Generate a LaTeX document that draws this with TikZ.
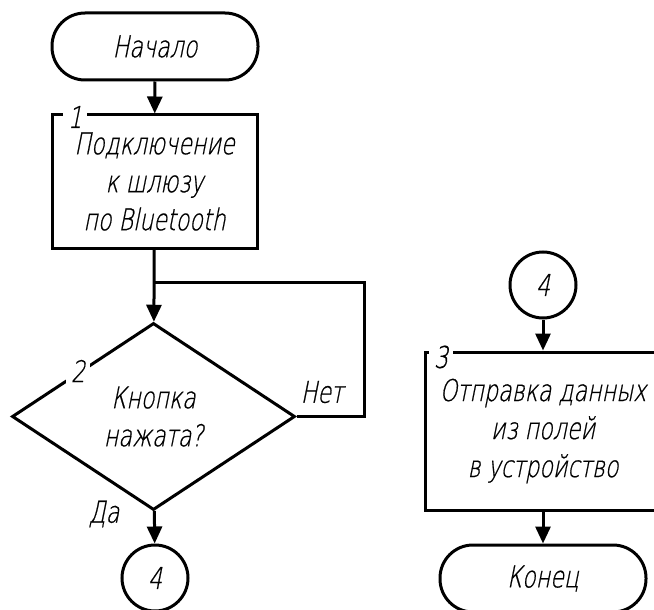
\documentclass[tikz,border=0pt]{standalone}
\usepackage{fontspec}
\newfontfamily\gost{DejaVu Sans ExtraLight}[FakeSlant=0.2,FakeStretch=0.74,FakeBold=0.6]
\usetikzlibrary{shapes.geometric,arrows.meta}
\tikzset{
  base/.style={draw,line width=3pt,align=center,inner sep=0pt,
    font=\gost\fontsize{30}{38}\selectfont},
  term/.style={base,rounded corners=33pt,minimum width=206pt,minimum height=67pt},
  proc/.style={base,rectangle},
  cond/.style={base,diamond,minimum width=283pt,minimum height=187pt},
  conn/.style={base,circle,minimum size=66pt},
  num/.style={fill=white,inner xsep=5pt,inner ysep=2pt,font=\gost\fontsize{30}{30}\selectfont},
  lbl/.style={inner sep=0pt,font=\gost\fontsize{30}{30}\selectfont},
  flow/.style={line width=3pt,-{Triangle[length=17pt,width=15pt]}},
  line/.style={line width=3pt}
}
\begin{document}
\begin{tikzpicture}[x=1pt,y=-1pt]
\useasboundingbox[fill=white] (0,0) rectangle (654,610);
% left column
\node[term] (start) at (155,46.5) {Начало};
\node[proc,minimum width=205pt,minimum height=133pt] (b1) at (154.5,181.5)
  {Подключение\\к шлюзу\\по Bluetooth};
\node[cond] (d2) at (153.5,416.5) {Кнопка\\нажата?};
\node[conn] (c4a) at (155,578) {4};
\coordinate (j) at (155,282);
\draw[flow] (start) -- (b1);
\draw[flow] (b1) -- (d2);
\draw[line] (d2.east) -- ++(68,0) |- (j);
\draw[flow] (d2) -- (c4a);
\node[lbl] (no) at (322,392) {Нет};
\node[lbl] (yes) at (104,514) {Да};
\node[num] (n1) at (75,117) {1};
\node[num] (n2) at (78,371) {2};
% right column
\node[conn] (c4b) at (543,285) {4};
\node[proc,minimum width=236pt,minimum height=158pt] (b3) at (543,431)
  {Отправка данных\\из полей\\в устройство};
\node[term] (end) at (543,578.5) {Конец};
\draw[flow] (c4b) -- (b3);
\draw[flow] (b3) -- (end);
\node[num] (n3) at (441,357) {3};
\end{tikzpicture}
\end{document}
